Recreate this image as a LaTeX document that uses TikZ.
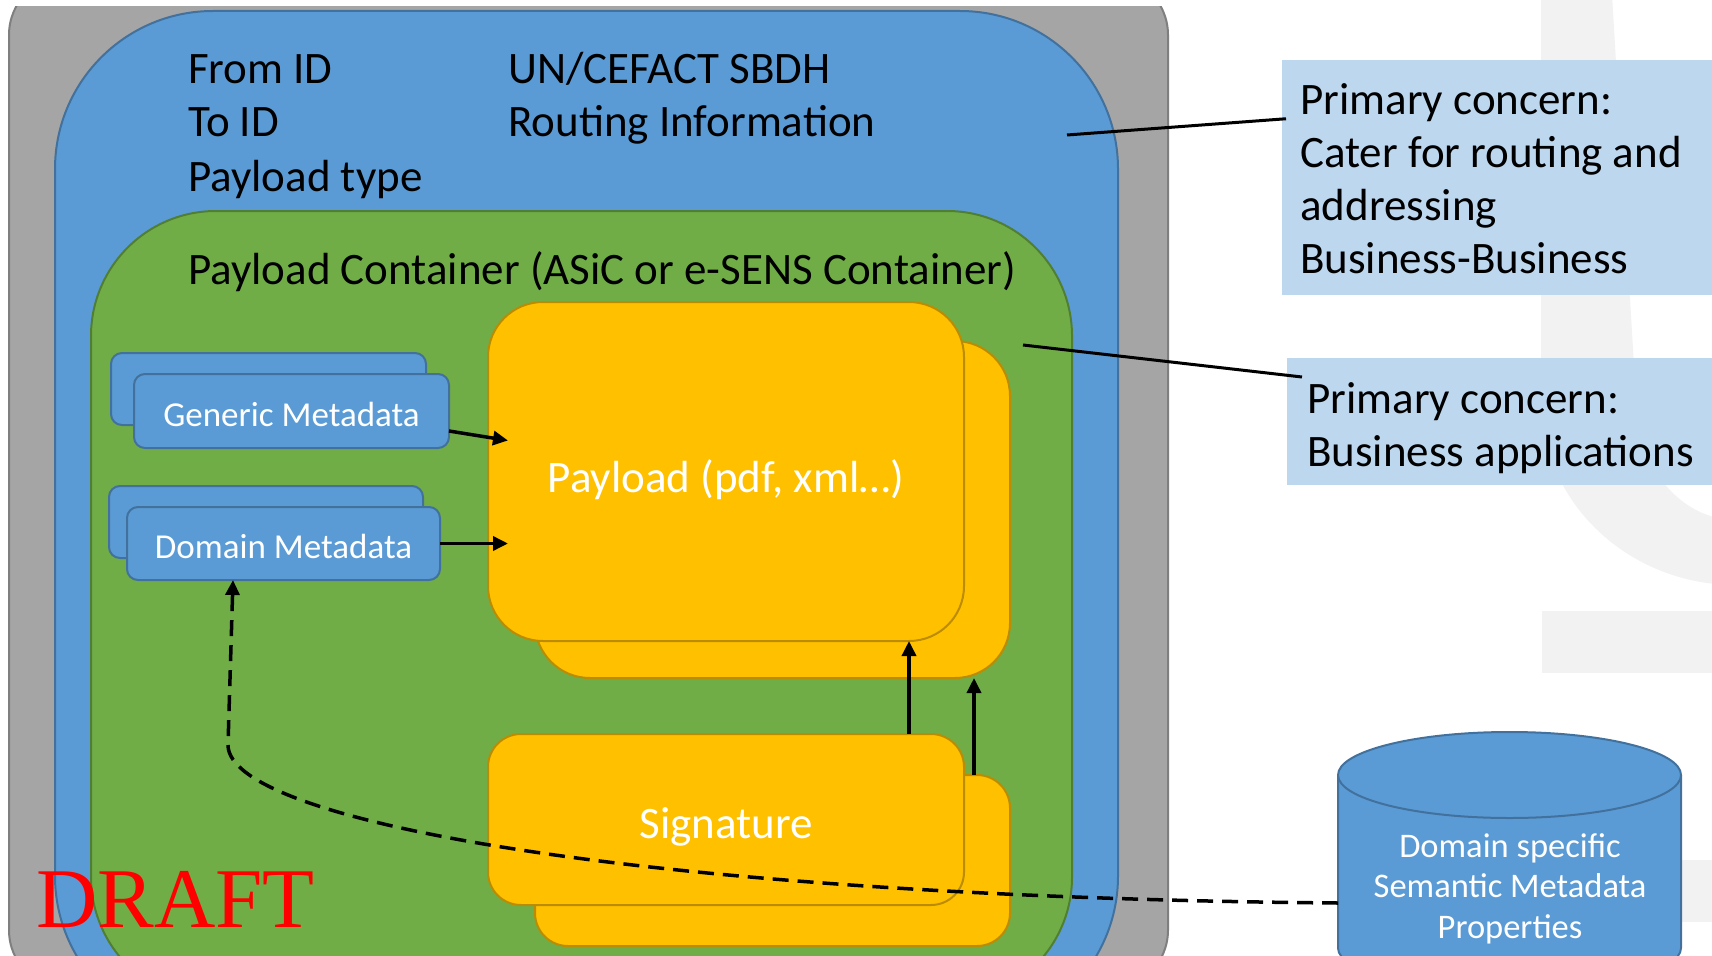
\documentclass[tikz,border=0pt]{standalone}
\usepackage{fontspec}
\setmainfont{Carlito}
\newfontfamily\draftfont{Liberation Serif}
\usetikzlibrary{arrows.meta,calc}
\definecolor{greyfill}{HTML}{A5A5A5}
\definecolor{greyline}{HTML}{7F7F7F}
\definecolor{bluefill}{HTML}{5B9BD5}
\definecolor{blueline}{HTML}{41719C}
\definecolor{greenfill}{HTML}{70AD47}
\definecolor{greenline}{HTML}{507E32}
\definecolor{goldfill}{HTML}{FFC000}
\definecolor{goldline}{HTML}{BC8C00}
\definecolor{notefill}{HTML}{BDD7EE}
\definecolor{markgrey}{HTML}{F2F2F2}
\begin{document}
\begin{tikzpicture}[x=1pt,y=-1pt,
  panel/.style={inner sep=0pt, outer sep=0pt, anchor=north west, line width=2pt},
  greybox/.style={panel, fill=greyfill, draw=greyline, rounded corners=60pt},
  bluebox/.style={panel, fill=bluefill, draw=blueline},
  greenbox/.style={panel, fill=greenfill, draw=greenline, rounded corners=125pt},
  metabox/.style={panel, fill=bluefill, draw=blueline, rounded corners=11pt, text=white, font=\fontsize{35}{42}\selectfont},
  goldbox/.style={panel, fill=goldfill, draw=goldline, text=white, font=\fontsize{45}{54}\selectfont},
  notebox/.style={panel, fill=notefill, draw=none},
  txt/.style={anchor=base west, inner sep=0pt, font=\fontsize{45}{54}\selectfont},
  inlbl/.style={inner sep=0pt, text=white},
  cyltxt/.style={anchor=base, inner sep=0pt, text=white, font=\fontsize{34.5}{41}\selectfont},
  arr/.style={line width=3.5pt, -{Triangle[length=15pt,width=14pt]}},
  link/.style={line width=3pt},
  dasharr/.style={line width=3.5pt, dash pattern=on 16pt off 9pt, -{Triangle[length=15pt,width=14pt]}}
]
\useasboundingbox (0,0) rectangle (1712,955);
\clip (0,0) rectangle (1712,955);
\fill[white] (0,0) rectangle (1712,955);

% watermark
\fill[markgrey] (1541,-5) -- (1541,400) arc[start angle=180, end angle=90, x radius=195, y radius=185]
  -- (1736,520) arc[start angle=90, end angle=180, x radius=100, y radius=120] -- (1612,-5) -- cycle;
\fill[markgrey] (1542,611) rectangle (1712,673);
\fill[markgrey] (1542,860) rectangle (1712,922);

% nested containers
\begin{scope}
\clip (0,7) rectangle (1712,955);
\node[greybox, minimum width=1159pt, minimum height=1015pt] (outer) at (9,-25) {};
\end{scope}
\node[bluebox, rounded corners=158pt, minimum width=1063pt, minimum height=1023pt] (sbdh) at (55,11) {};
\node[greenbox, minimum width=981pt, minimum height=791pt] (cont) at (91,211) {};

\node[txt] (from) at (188,84) {From ID};
\node[txt] (to) at (188,136.5) {To ID};
\node[txt] (ptype) at (188,191) {Payload type};
\node[txt] (un) at (508,84) {UN/CEFACT SBDH};
\node[txt] (rout) at (508,136.5) {Routing Information};
\node[txt] (ctitle) at (188,284) {Payload Container (ASiC or e-SENS Container)};

% metadata
\node[metabox, minimum width=315pt, minimum height=72pt] (genb) at (111,353) {};
\node[metabox, minimum width=315pt, minimum height=74pt] (genf) at (134,374) {};
\node[inlbl, font=\fontsize{35}{42}\selectfont] at ($(genf.center)+(0,3)$) {Generic Metadata};
\node[metabox, minimum width=314pt, minimum height=72pt] (domb) at (109,486) {};
\node[metabox, minimum width=313pt, minimum height=73pt] (domf) at (127,507) {};
\node[inlbl, font=\fontsize{35}{42}\selectfont] at ($(domf.center)+(0,3)$) {Domain Metadata};

% payload and signature
\node[goldbox, rounded corners=55pt, minimum width=475pt, minimum height=337pt] (payb) at (535,341) {};
\node[goldbox, rounded corners=55pt, minimum width=476pt, minimum height=339pt] (payf) at (488,302) {};
\node[inlbl, font=\fontsize{45}{54}\selectfont] at ($(payf.center)+(0,8)$) {Payload (pdf, xml…)};
\node[goldbox, rounded corners=33pt, minimum width=475pt, minimum height=171pt] (sigb) at (535,775) {};
\node[goldbox, rounded corners=33pt, minimum width=476pt, minimum height=171pt] (sigf) at (488,734) {};
\node[inlbl, font=\fontsize{45}{54}\selectfont] at ($(sigf.center)+(0,7)$) {Signature};

\draw[arr] ($(genf.east)+(0,20)$) -- ($(payf.west)+(20,-31)$);
\draw[arr] (domf.east) -- ($(payf.west)+(20,72)$);
\draw[arr] ($(sigf.north east)+(-55,0)$) -- ($(payf.south east)+(-55,0)$);
\draw[arr] ($(sigb.north east)+(-36,0)$) -- ($(payb.south east)+(-36,0)$);

% cylinder
\node[panel, minimum width=343pt, minimum height=173pt] (cyl) at (1338,775) {};
\filldraw[fill=bluefill, draw=blueline, line width=2pt] (cyl.north west) -- (cyl.south west)
  arc[start angle=180, end angle=0, x radius=171.5, y radius=43] -- (cyl.north east);
\filldraw[fill=bluefill, draw=blueline, line width=2pt] (cyl.north) ellipse[x radius=171.5, y radius=43];
\node[cyltxt] (c1) at (1510,857) {Domain specific};
\node[cyltxt] (c2) at (1510,897.5) {Semantic Metadata};
\node[cyltxt] (c3) at (1510,938) {Properties};

\draw[dasharr] ($(cyl.north west)+(0,128)$) .. controls (650,897) and (228,822) .. (228,745)
  -- ($(domf.south west)+(106,0)$);

% notes
\node[notebox, minimum width=430pt, minimum height=235pt] (n1) at (1282,60) {};
\node[notebox, minimum width=425pt, minimum height=127pt] (n2) at (1287,358) {};
\node[txt] (n1a) at (1300,114.5) {Primary concern:};
\node[txt] (n1b) at (1300,167.5) {Cater for routing and};
\node[txt] (n1c) at (1300,220.5) {addressing};
\node[txt] (n1d) at (1300,273.5) {Business-Business};
\node[txt] (n2a) at (1307,413) {Primary concern:};
\node[txt] (n2b) at (1307,466) {Business applications};

\coordinate (l1) at (1067,135);
\coordinate (l2) at (1023,345);
\draw[link] (l1) -- ($(n1.north west)!0.25!(n1.south west)+(4,0)$);
\draw[link] (l2) -- ($(n2.north west)+(15,19)$);

\node[anchor=base west, inner sep=0pt, text=red, font=\draftfont\fontsize{85}{85}\selectfont] (draft) at (36,927) {DRAFT};
\end{tikzpicture}
\end{document}
